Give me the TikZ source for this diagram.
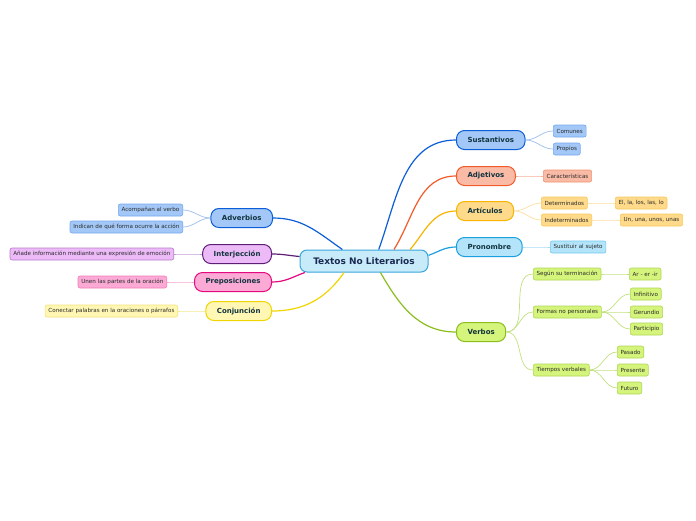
\documentclass[tikz,border=0pt]{standalone}
\usepackage{fontspec}
\setmainfont{DejaVu Sans}
\usepackage{tikz}
\usetikzlibrary{positioning,arrows.meta}
\definecolor{roottext}{HTML}{1B2A52}
\definecolor{toptext}{HTML}{12343F}
\definecolor{subtext}{HTML}{2A2A2A}
\definecolor{rootline}{HTML}{3AA6DC}
\definecolor{rootfill}{HTML}{C8EBFA}
\definecolor{blline}{HTML}{0B5ED7}
\definecolor{blfill}{HTML}{A3C8F7}
\definecolor{blsd}{HTML}{74A7EE}
\definecolor{blsc}{HTML}{9DBFEC}
\definecolor{rdline}{HTML}{F25A29}
\definecolor{rdfill}{HTML}{F9BAA6}
\definecolor{rdsd}{HTML}{F2936F}
\definecolor{rdsc}{HTML}{F7B09A}
\definecolor{amline}{HTML}{F7B500}
\definecolor{amfill}{HTML}{FEDA8A}
\definecolor{amsd}{HTML}{F8C95A}
\definecolor{amsc}{HTML}{FCE0A0}
\definecolor{cyline}{HTML}{1AA0E0}
\definecolor{cyfill}{HTML}{B4E4FA}
\definecolor{cysd}{HTML}{73C8EE}
\definecolor{cysc}{HTML}{A8DDF5}
\definecolor{grline}{HTML}{8CBF1E}
\definecolor{grfill}{HTML}{D5F47B}
\definecolor{grsd}{HTML}{AED757}
\definecolor{grsc}{HTML}{C2E180}
\definecolor{puline}{HTML}{5E1E78}
\definecolor{pufill}{HTML}{ECBBF7}
\definecolor{pusd}{HTML}{B77DCB}
\definecolor{pusc}{HTML}{C49CD3}
\definecolor{pkline}{HTML}{E5097F}
\definecolor{pkfill}{HTML}{FAAAD5}
\definecolor{pksd}{HTML}{F27CB6}
\definecolor{pksc}{HTML}{F8A8CF}
\definecolor{yeline}{HTML}{F0D500}
\definecolor{yefill}{HTML}{FFF7B3}
\definecolor{yesd}{HTML}{F3E37A}
\definecolor{yesc}{HTML}{F5EA8E}
\tikzset{
  root/.style={rounded corners=7pt, draw=rootline, fill=rootfill, line width=1pt,
    minimum width=128pt, minimum height=22pt, inner sep=0pt, text=roottext,
    font=\fontsize{9}{10}\selectfont\bfseries},
  topic/.style={rounded corners=8pt, draw=#1line, fill=#1fill, line width=1pt,
    minimum height=19pt, inner xsep=11pt, inner ysep=0pt, text=toptext,
    font=\fontsize{7}{8}\selectfont\bfseries},
  sub/.style={rounded corners=2pt, draw=#1sd, fill=#1fill, line width=0.6pt,
    minimum height=12pt, inner xsep=3.3pt, inner ysep=0pt, text=subtext,
    font=\fontsize{5.6}{6}\selectfont},
  link/.style={draw=#1line, line width=1.2pt},
  sublink/.style={draw=#1sc, line width=0.7pt},
}
\begin{document}
\begin{tikzpicture}[x=1pt,y=1pt]
  \fill[white] (0,0) rectangle (696,-520);
  \useasboundingbox (0,0) rectangle (696,-520);
  \node[root] (root) at (364,-261) {Textos No Literarios};
  % right branches
  \node[topic=bl, anchor=west] (sus) at (456,-140) {Sustantivos};
  \node[topic=rd, anchor=west] (adj) at (456,-176) {Adjetivos};
  \node[topic=am, anchor=west] (art) at (456,-211) {Artículos};
  \node[topic=cy, anchor=west] (pro) at (456,-247) {Pronombre};
  \node[topic=gr, anchor=west] (ver) at (456,-332) {Verbos};
  % left branches
  \node[topic=bl, anchor=east] (adv) at (273,-218) {Adverbios};
  \node[topic=pu, anchor=east] (inj) at (272,-254) {Interjección};
  \node[topic=pk, anchor=east] (pre) at (272,-282) {Preposiciones};
  \node[topic=ye, anchor=east] (con) at (272,-311) {Conjunción};
  \draw[link=bl] (root.38)  to[out=70,in=180]  (sus.west);
  \draw[link=rd] (root.21)  to[out=58,in=180]  (adj.west);
  \draw[link=am] (root.14)  to[out=50,in=180]  (art.west);
  \draw[link=cy] (root.5)   to[out=20,in=180]  (pro.west);
  \draw[link=gr] (root.325) to[out=-60,in=180] (ver.west);
  \draw[link=bl] (root.152) to[out=145,in=0]   (adv.east);
  \draw[link=pu] (root.176) to[out=175,in=0]   (inj.east);
  \draw[link=pk] (root.191) to[out=200,in=0]   (pre.east);
  \draw[link=ye] (root.210) to[out=235,in=0]   (con.east);
  % leaves
  \node[sub=bl, anchor=west] (com)   at (553,-131) {Comunes};
  \node[sub=bl, anchor=west] (prop)  at (553,-149) {Propios};
  \node[sub=rd, anchor=west] (car)   at (543,-176) {Características};
  \node[sub=am, anchor=west] (det)   at (541,-203) {Determinados};
  \node[sub=am, anchor=west] (eldet) at (615,-203) {El, la, los, las, lo};
  \node[sub=am, anchor=west] (ind)   at (541,-220) {Indeterminados};
  \node[sub=am, anchor=west] (unind) at (620,-220) {Un, una, unos, unas};
  \node[sub=cy, anchor=west] (sust)  at (550,-247) {Sustituir al sujeto};
  \node[sub=gr, anchor=west] (seg)   at (533,-274) {Según su terminación};
  \node[sub=gr, anchor=west] (arer)  at (629,-274) {Ar - er -ir};
  \node[sub=gr, anchor=west] (form)  at (533,-312) {Formas no personales};
  \node[sub=gr, anchor=west] (inf)   at (630,-294) {Infinitivo};
  \node[sub=gr, anchor=west] (ger)   at (630,-312) {Gerundio};
  \node[sub=gr, anchor=west] (part)  at (630,-329) {Participio};
  \node[sub=gr, anchor=west] (tiem)  at (533,-370) {Tiempos verbales};
  \node[sub=gr, anchor=west] (pas)   at (617,-352) {Pasado};
  \node[sub=gr, anchor=west] (pres)  at (617,-370) {Presente};
  \node[sub=gr, anchor=west] (fut)   at (617,-388) {Futuro};
  \node[sub=bl, anchor=east] (acom)  at (183,-210) {Acompañan al verbo};
  \node[sub=bl, anchor=east] (indi)  at (183,-227) {Indican de qué forma ocurre la acción};
  \node[sub=pu, anchor=east] (anad)  at (174,-254) {Añade información mediante una expresión de emoción};
  \node[sub=pk, anchor=east] (unen)  at (167,-282) {Unen las partes de la oración};
  \node[sub=ye, anchor=east] (cone)  at (178,-311) {Conectar palabras en la oraciones o párrafos};
  \foreach \a/\b/\c in {sus/com/bl, sus/prop/bl, adj/car/rd, art/det/am, art/ind/am,
      det/eldet/am, ind/unind/am, pro/sust/cy, ver/seg/gr, ver/form/gr, ver/tiem/gr,
      seg/arer/gr, form/inf/gr, form/ger/gr, form/part/gr,
      tiem/pas/gr, tiem/pres/gr, tiem/fut/gr}
    \draw[sublink=\c] (\a.east) to[out=0,in=180] (\b.west);
  \foreach \a/\b/\c in {adv/acom/bl, adv/indi/bl, inj/anad/pu, pre/unen/pk, con/cone/ye}
    \draw[sublink=\c] (\a.west) to[out=180,in=0] (\b.east);
\end{tikzpicture}
\end{document}
